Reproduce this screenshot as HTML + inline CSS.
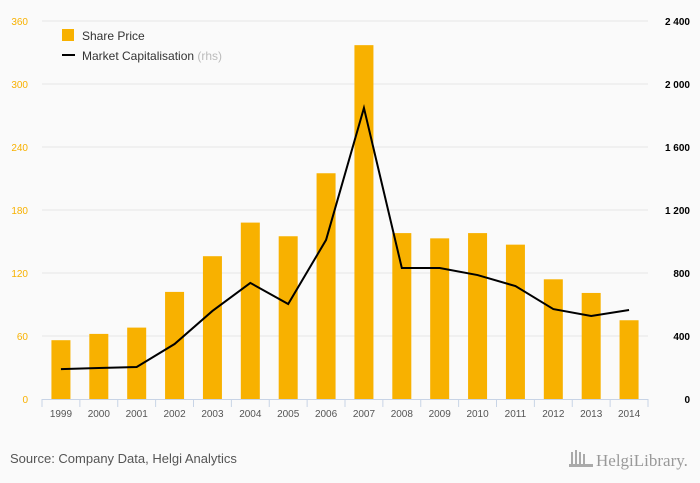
<!DOCTYPE html>
<html><head><meta charset="utf-8"><style>
body{margin:0;background:#fafafa;font-family:"Liberation Sans",sans-serif;}
svg{display:block}
</style></head><body>
<svg width="700" height="483" id="c">
<rect width="700" height="483" fill="#fafafa"/>
<g id="grid"></g><g id="bars"></g><g id="line"></g><g id="axes"></g>
<g>
<rect x="62" y="29" width="12" height="12" fill="#f8b100"/>
<text x="82" y="40" font-size="12" fill="#333">Share Price</text>
<line x1="62" y1="55" x2="75" y2="55" stroke="#000" stroke-width="2"/>
<text x="82" y="60" font-size="12" fill="#333">Market Capitalisation <tspan fill="#bbb">(rhs)</tspan></text>
</g>
<text x="10" y="463" font-size="13" fill="#555">Source: Company Data, Helgi Analytics</text>
<text x="596" y="466" font-size="17" fill="#999" font-family="Liberation Serif, serif">HelgiLibrary.</text>
<g fill="#aaa"><rect x="571" y="452" width="2" height="14"/><rect x="575" y="450" width="2" height="16"/><rect x="579" y="452" width="2" height="14"/><rect x="583" y="454" width="2" height="12"/><rect x="569" y="464" width="24" height="3"/></g>
</svg>
<script>
const categories=["1999","2000","2001","2002","2003","2004","2005","2006","2007","2008","2009","2010","2011","2012","2013","2014"];
const sharePrice=[56,62,68,102,136,168,155,215,337,158,153,158,147,114,101,75];
const marketCap=[190,197,203,349,559,737,603,1010,1848,832,832,787,717,571,527,565];
const leftTicks=[0,60,120,180,240,300,360];
const rightTicks=[0,400,800,1200,1600,2000,2400];
const NS="http://www.w3.org/2000/svg";
const x0=42,x1=648,yB=399,yT=21;
const bw=(x1-x0)/categories.length;
const xc=i=>x0+bw*(i+0.5);
const yL=v=>yB-(v/360)*(yB-yT);
const yR=v=>yB-(v/2400)*(yB-yT);
function mk(tag,attrs,parent,txt){const e=document.createElementNS(NS,tag);for(const k in attrs)e.setAttribute(k,attrs[k]);if(txt!=null)e.textContent=txt;document.getElementById(parent).appendChild(e);return e;}
leftTicks.forEach((t,i)=>{
 if(t>0){const g=mk('line',{x1:x0,x2:x1,y1:yL(t),y2:yL(t),stroke:'#e6e6e6'},'grid');
 
 }
 const l=mk('text',{x:28,y:yL(t)+4,'font-size':10,fill:'#f8b100','text-anchor':'end'},'axes',t);
 
 
});
rightTicks.forEach(t=>{
 const l=mk('text',{x:690,y:yR(t)+4,'font-size':10,fill:'#000','text-anchor':'end','font-weight':'bold'},'axes',t.toLocaleString('en').replace(',',' '));
 
 
});
const ax=mk('line',{x1:x0,x2:x1,y1:yB+0.5,y2:yB+0.5,stroke:'#c8d4e6'},'axes');


categories.forEach((c,i)=>{
 const tk=mk('line',{x1:x0+bw*i,x2:x0+bw*i,y1:yB,y2:yB+8,stroke:'#c8d4e6'},'axes');
 
 
 const l=mk('text',{x:xc(i),y:yB+18,'font-size':10,fill:'#555','text-anchor':'middle'},'axes',c);
 
 
 const b=mk('rect',{x:xc(i)-9.5,y:yL(sharePrice[i]),width:19,height:yB-yL(sharePrice[i]),fill:'#f8b100'},'bars');
 
 
});
const tk2=mk('line',{x1:x1,x2:x1,y1:yB,y2:yB+8,stroke:'#c8d4e6'},'axes');


const p=mk('polyline',{points:marketCap.map((v,i)=>xc(i)+','+yR(v)).join(' '),fill:'none',stroke:'#000','stroke-width':2},'line');


</script>
</body></html>
